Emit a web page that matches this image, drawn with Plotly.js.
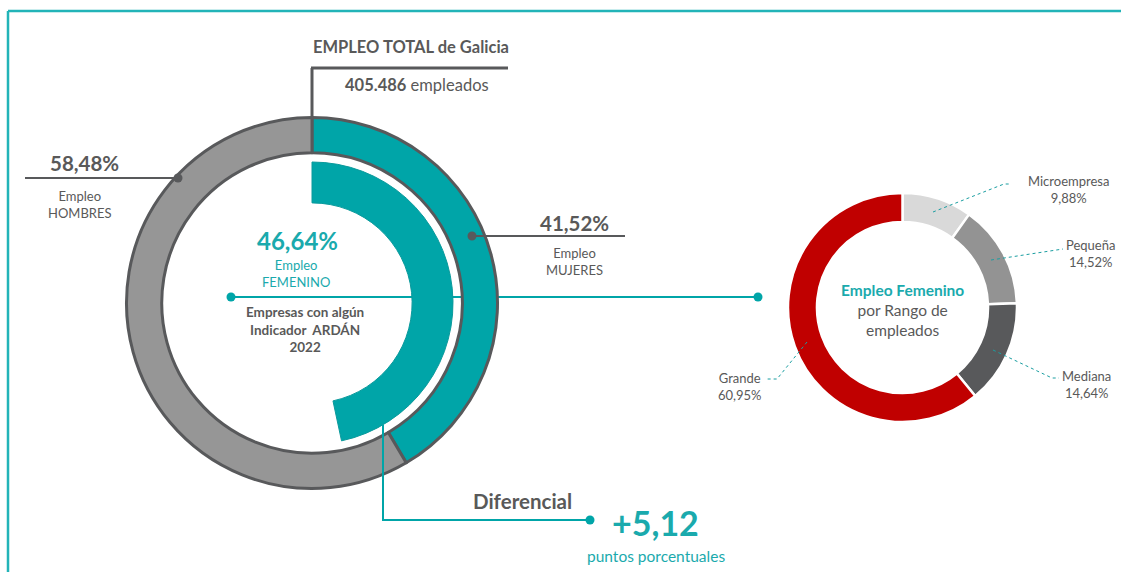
<!DOCTYPE html>
<html>
<head>
<meta charset="utf-8">
<script src="https://cdn.plot.ly/plotly-3.0.1.min.js"></script>
<style>html,body{margin:0;padding:0;background:#fff;}#chart{width:1121px;height:572px;}</style>
</head>
<body>
<div id="chart"></div>
<script>
// ---- data ----
const totalLabels = ['Empleo MUJERES', 'Empleo HOMBRES'];
const totalShares = [41.52, 58.48];
const totalEmpleados = '405.486';
const ardanLabels = ['Empleo FEMENINO', ''];
const ardanShares = [46.64, 53.36];
const diferencial = 5.12;
const rangoLabels = ['Microempresa', 'Pequeña', 'Mediana', 'Grande'];
const rangoShares = [9.88, 14.52, 14.64, 60.95];

// ---- helpers ----
const W = 1121, H = 572;
const px = x => x / W;
const py = y => 1 - y / H;
const dom = (cx, cy, r) => ({x: [(cx - r) / W, (cx + r) / W], y: [1 - (cy + r) / H, 1 - (cy - r) / H]});
const pct = v => v.toFixed(2).replace('.', ',') + '%';

const TEAL = '#00a5a8';
const TEALT = '#1aaaad';
const GREYTXT = '#595959';
const DARK = '#58595b';
const FONT = 'Lato, "Open Sans", sans-serif';

const traces = [
  {
    type: 'pie', values: totalShares, labels: totalLabels, sort: false, direction: 'clockwise', rotation: 0,
    hole: 0.81, domain: dom(312, 303, 185.5), textinfo: 'none', hoverinfo: 'skip',
    marker: {colors: [TEAL, '#969696'], line: {color: DARK, width: 3}}
  },
  {
    type: 'pie', values: ardanShares, labels: ['Empleo FEMENINO ARDÁN', 'resto'], sort: false, direction: 'clockwise', rotation: 0,
    hole: 0.71, domain: dom(312, 303, 141), textinfo: 'none', hoverinfo: 'skip',
    marker: {colors: [TEAL, 'rgba(0,0,0,0)'], line: {color: ['#0b9a9c', 'rgba(0,0,0,0)'], width: [1, 0]}}
  },
  {
    type: 'pie', values: rangoShares, labels: rangoLabels, sort: false, direction: 'clockwise', rotation: 0,
    hole: 0.747, domain: dom(902.5, 307.5, 114.5), textinfo: 'none', hoverinfo: 'skip',
    marker: {colors: ['#d9d9d9', '#939393', '#58595b', '#c00000'], line: {color: '#ffffff', width: 2.5}}
  }
];

function line(x0, y0, x1, y1, color, width, layer, dash) {
  return {type: 'line', xref: 'paper', yref: 'paper', x0: px(x0), y0: py(y0), x1: px(x1), y1: py(y1),
    line: {color: color, width: width, dash: dash || 'solid'}, layer: layer || 'above'};
}
function path(pts, color, width, dash) {
  const d = pts.map((p, i) => (i ? 'L' : 'M') + px(p[0]) + ',' + py(p[1])).join(' ');
  return {type: 'path', xref: 'paper', yref: 'paper', path: d, line: {color: color, width: width, dash: dash || 'solid'}, layer: 'above'};
}
function dot(x, y, r, color) {
  return {type: 'circle', xref: 'paper', yref: 'paper', x0: px(x - r), x1: px(x + r), y0: py(y + r), y1: py(y - r),
    fillcolor: color, line: {color: color, width: 0}, layer: 'above'};
}

const shapes = [
  // frame
  line(8, 11, 1121, 11, '#22b4b8', 2.5),
  line(8, 11, 8, 572, '#22b4b8', 2.5),
  // total connector
  line(312, 68, 312, 118, DARK, 3, 'below'),
  line(311, 68, 508, 68, DARK, 3, 'below'),
  // hombres
  line(25, 178, 178, 178, DARK, 2),
  dot(178, 178, 4.5, DARK),
  // mujeres
  line(472, 236, 625, 236, DARK, 2),
  dot(472, 236, 4.5, DARK),
  // teal connector to right donut (behind rings)
  line(231, 297, 758, 297, TEAL, 2, 'below'),
  dot(231, 297, 4.5, TEAL),
  dot(758, 297, 4.5, TEAL),
  // diferencial connector
  path([[383, 425], [383, 520], [590, 520]], TEAL, 2),
  dot(590, 520, 4.5, TEAL),
  // right donut leaders
  path([[933, 212], [1004, 184], [1010, 184]], '#1a9ea1', 1, 'dot'),
  path([[991, 260], [1063, 249]], '#1a9ea1', 1, 'dot'),
  path([[993, 350], [1052, 378], [1059, 378]], '#1a9ea1', 1, 'dot'),
  path([[807, 342], [777, 379], [767, 379]], '#1a9ea1', 1, 'dot')
];

function ann(x, y, text, size, color, bold, extra) {
  return Object.assign({xref: 'paper', yref: 'paper', x: px(x), y: py(y), xanchor: 'center', yanchor: 'middle',
    showarrow: false, text: bold ? '<b>' + text + '</b>' : text,
    font: {family: FONT, size: size, color: color}}, extra || {});
}

const annotations = [
  ann(411, 47, 'EMPLEO TOTAL de Galicia', 16.5, GREYTXT, true),
  ann(417, 85, '<b>' + totalEmpleados + '</b> empleados', 16.5, GREYTXT, false),
  ann(84, 163, pct(totalShares[1]), 20.5, GREYTXT, true),
  ann(80, 204, 'Empleo<br>HOMBRES', 13, GREYTXT, false),
  ann(574, 223, pct(totalShares[0]), 20.5, GREYTXT, true),
  ann(575, 261, 'Empleo<br>MUJERES', 13, GREYTXT, false),
  ann(297, 240, pct(ardanShares[0]), 24, TEALT, true),
  ann(296, 274, 'Empleo<br>FEMENINO', 13, TEALT, false),
  ann(305, 329, 'Empresas con algún<br>Indicador  ARDÁN<br>2022', 13.5, GREYTXT, true, {}),
  ann(522, 501, 'Diferencial', 20.5, GREYTXT, true),
  ann(655, 522, '+' + diferencial.toFixed(2).replace('.', ','), 34, TEALT, true),
  ann(656, 556, 'puntos porcentuales', 15.5, TEALT, false),
  ann(902, 310, '<b style="color:' + TEALT + '">Empleo Femenino</b><br>por Rango de<br>empleados', 15.5, GREYTXT, false),
  ann(1068, 189, rangoLabels[0] + '<br>' + pct(rangoShares[0]), 13, GREYTXT, false),
  ann(1090, 253, rangoLabels[1] + '<br>' + pct(rangoShares[1]), 13, GREYTXT, false),
  ann(1086, 384, rangoLabels[2] + '<br>' + pct(rangoShares[2]), 13, GREYTXT, false),
  ann(740, 386, rangoLabels[3] + '<br>' + pct(rangoShares[3]), 13, GREYTXT, false)
];

const layout = {
  width: W, height: H, margin: {l: 0, r: 0, t: 0, b: 0},
  paper_bgcolor: '#ffffff', plot_bgcolor: '#ffffff', showlegend: false,
  shapes: shapes, annotations: annotations, font: {family: FONT}
};

Plotly.newPlot('chart', traces, layout, {displayModeBar: false, staticPlot: true});
</script>
</body>
</html>
